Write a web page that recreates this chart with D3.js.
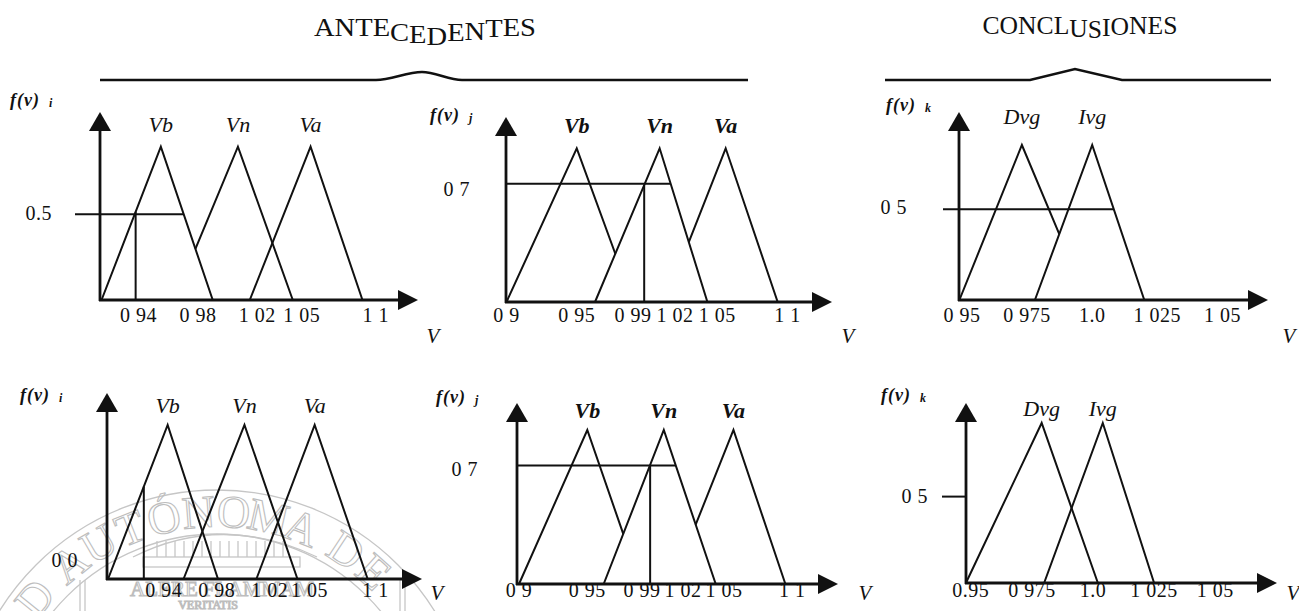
<!DOCTYPE html>
<html>
<head>
<meta charset="utf-8">
<script src="https://cdn.jsdelivr.net/npm/d3@7/dist/d3.min.js"></script>
<style>
  body { margin: 0; background: #fff; }
  svg { display: block; font-family: "Liberation Serif", "Times New Roman", serif; }
  .tri { fill: none; stroke: #111; stroke-width: 2; stroke-linejoin: miter; }
  .axis { fill: none; stroke: #111; stroke-width: 2.8; }
  .arrow { fill: #111; stroke: none; }
  .guide { fill: none; stroke: #111; stroke-width: 2; }
  .tick { font-size: 20px; letter-spacing: 0.5px; fill: #111; }
  .setname { font-size: 22px; font-style: italic; fill: #111; }
  .fv { font-size: 18px; font-style: italic; font-weight: bold; letter-spacing: 1px; fill: #111; }
  .vlab { font-size: 21px; font-style: italic; fill: #111; }
  .head { font-size: 26px; fill: #111; }
  .brace { fill: none; stroke: #111; stroke-width: 2.4; }
  .seal { fill: none; stroke: #c6c6c6; stroke-width: 1.3; }
  .sealtext { font-size: 46px; fill: none; stroke: #bdbdbd; stroke-width: 1.1; }
</style>
</head>
<body>
<svg id="chart" width="1299" height="611"></svg>
<script>
(function (d3) {
  'use strict';

  // --- data ----------------------------------------------------------
  var headers = ['ANTECEDENTES', 'CONCLUSIONES'];
  var antNames = ['Vb', 'Vn', 'Va'];
  var conNames = ['Dvg', 'Ivg'];

  // triangles [left foot, peak, right foot] in V, one array per panel
  var setsTL = [[0.915, 0.955, 0.990], [0.964, 1.007, 1.044], [1.015, 1.056, 1.091]];
  var setsTM = [[0.900, 0.950, 0.990], [0.963, 1.009, 1.043], [1.013, 1.056, 1.093]];
  var setsTR = [[0.949, 0.973, 0.998], [0.978, 1.000, 1.020]];
  var setsBL = [[0.898, 0.943, 0.981], [0.955, 1.001, 1.041], [1.010, 1.054, 1.094]];
  var setsBM = [[0.900, 0.950, 0.989], [0.962, 1.006, 1.044], [1.012, 1.057, 1.095]];
  var setsBR = [[0.948, 0.979, 1.002], [0.980, 1.004, 1.025]];

  // x tick values and the labels as printed
  var ticksA1 = [0.94, 0.98, 1.02, 1.05, 1.1];
  var textA1 = ['0 94', '0 98', '1 02', '1 05', '1 1'];
  var ticksA2 = [0.9, 0.95, 0.99, 1.02, 1.05, 1.1];
  var textA2 = ['0 9', '0 95', '0 99', '1 02', '1 05', '1 1'];
  var ticksC = [0.95, 0.975, 1.0, 1.025, 1.05];
  var textCTop = ['0 95', '0 975', '1.0', '1 025', '1 05'];
  var textCBot = ['0.95', '0 975', '1.0', '1 025', '1 05'];

  // per panel (TL, TM, TR, BL, BM, BR): measured input, level line, level label
  var inputs = [0.938, 0.998, null, 0.925, 0.996, null];
  var levels = [0.56, 0.77, 0.585, 0.12, 0.77, 0.54];
  var levelText = ['0.5', '0 7', '0 5', '0 0', '0 7', '0 5'];
  var subs = ['i', 'j', 'k', 'i', 'j', 'k'];

  // watermark texts of the scanned page
  var sealRing = 'UNIVERSIDAD AUTÓNOMA DE NUEVO LEÓN';
  var sealMotto = ['ALERE FLAMMAM', 'VERITATIS'];

  // --- layout ---------------------------------------------------------
  var panels = [
    { sets: setsTL, names: antNames, ticks: ticksA1, ttext: textA1, dom: [0.9, 1.1], rng: [79.3, 375.8],
      ax: 100, base: 300, top: 146.7, tip: 112, end: 418, tickY: 322, vX: 433, vY: 343, nameY: 132,
      active: 0, hline: 0, from: -25, lblX: 52, lblDy: 6, fv: [10, 106], bold: false, clip: [[1, 'left']] },
    { sets: setsTM, names: antNames, ticks: ticksA2, ttext: textA2, dom: [0.9, 1.1], rng: [506.5, 787.5],
      ax: 506, base: 302, top: 148.3, tip: 117, end: 832, tickY: 322, vX: 848, vY: 343, nameY: 133,
      active: 1, hline: 1, from: 0, lblX: 470, lblDy: 12, fv: [430, 121], bold: true, clip: [[0, 'right'], [2, 'left']] },
    { sets: setsTR, names: conNames, ticks: ticksC, ttext: textCTop, dom: [0.95, 1.05], rng: [962.0, 1222.4],
      ax: 959, base: 300, top: 145, tip: 112, end: 1268, tickY: 322, vX: 1289, vY: 343, nameY: 124,
      active: null, hline: 1, from: -16, lblX: 907, lblDy: 5, fv: [886, 111], bold: false, clip: [[0, 'right']] },
    { sets: setsBL, names: antNames, ticks: ticksA1, ttext: textA1, dom: [0.9, 1.1], rng: [110.7, 375.6],
      ax: 107, base: 579, top: 425, tip: 393, end: 422, tickY: 597, vX: 437, vY: 600, nameY: 413,
      active: 0, hline: null, from: 0, lblX: 78, lblDy: 6, fv: [20, 401], bold: false, clip: [] },
    { sets: setsBM, names: antNames, ticks: ticksA2, ttext: textA2, dom: [0.9, 1.1], rng: [519.0, 792.2],
      ax: 517, base: 584, top: 430, tip: 403, end: 838, tickY: 597, vX: 865, vY: 600, nameY: 418,
      active: 1, hline: 1, from: 0, lblX: 478, lblDy: 11, fv: [436, 403], bold: true, clip: [[0, 'right'], [2, 'left']] },
    { sets: setsBR, names: conNames, ticks: ticksC, ttext: textCBot, dom: [0.95, 1.05], rng: [970.8, 1215.2],
      ax: 966, base: 583, top: 423, tip: 403, end: 1277, tickY: 597, vX: 1293, vY: 600, nameY: 416,
      active: null, hline: -1, from: -24, lblX: 928, lblDy: 6, fv: [881, 401], bold: false, clip: [] }
  ];

  var svg = d3.select('#chart');

  // --- faint seal watermark, bottom left -------------------------------
  var sc = [217, 746];
  var seal = svg.append('g').attr('class', 'seal');
  seal.append('circle').attr('cx', sc[0]).attr('cy', sc[1]).attr('r', 256);
  seal.append('circle').attr('cx', sc[0]).attr('cy', sc[1]).attr('r', 212);

  // ring letters: 8.6 deg per letter, a bit more across a space, "T" sits at -21.7 deg
  var ringAng = [], a = 0, first = true;
  sealRing.split('').forEach(function (ch) {
    if (ch === ' ') { a += 3.5; return; }
    if (!first) a += 8.6;
    first = false;
    ringAng.push({ ch: ch, a: a });
  });
  var shift = -21.7 - ringAng[13].a;   // 14th letter is the T of AUTÓNOMA
  seal.selectAll('.sealtext')
    .data(ringAng.filter(function (d) { return d.a + shift > -62 && d.a + shift < 45; }))
    .enter().append('text')
    .attr('class', 'sealtext')
    .attr('x', sc[0]).attr('y', sc[1] - 219)
    .attr('text-anchor', 'middle')
    .attr('transform', function (d) { return 'rotate(' + (d.a + shift) + ',' + sc[0] + ',' + sc[1] + ')'; })
    .text(function (d) { return d.ch; });

  // temple: arch, columns, frieze, frame
  seal.append('path').attr('d', 'M133,557 Q222,512 317,557');
  d3.range(157, 292, 9).forEach(function (cx) {
    seal.append('line').attr('x1', cx).attr('x2', cx).attr('y1', 541).attr('y2', 557);
  });
  seal.append('rect').attr('x', 143).attr('y', 557).attr('width', 157).attr('height', 10);
  [80, 85, 400, 405].forEach(function (lx) {
    seal.append('line').attr('x1', lx).attr('x2', lx).attr('y1', 580).attr('y2', 611);
  });
  seal.append('text').attr('class', 'sealtext').attr('x', 222).attr('y', 596)
    .attr('text-anchor', 'middle').style('font-size', '21px').text(sealMotto[0]);
  seal.append('text').attr('class', 'sealtext').attr('x', 208).attr('y', 609)
    .attr('text-anchor', 'middle').style('font-size', '12px').text(sealMotto[1]);

  // --- headers with their brace lines ---------------------------------
  var headLayout = [
    { cx: 425, y: 36, len: 222, dy: [0, 0, 0, 0, 5, 2, 2, -4, -1, -3, -1, 0],
      x0: 100, x1: 748, xm: 422, half: [46, 40], rise: 8, curve: d3.curveMonotoneX },
    { cx: 1080, y: 34, len: 195, dy: [0, 0, 0, 0, 0, 3, 1, -2, -1, -1, 0, 0],
      x0: 885, x1: 1271, xm: 1075, half: [45, 47], rise: 11, curve: d3.curveLinear }
  ];
  headers.forEach(function (h, i) {
    var L = headLayout[i];
    svg.append('text').attr('class', 'head')
      .attr('x', L.cx).attr('y', L.y).attr('text-anchor', 'middle')
      .attr('dy', L.dy.join(' '))
      .attr('textLength', L.len).attr('lengthAdjust', 'spacingAndGlyphs')
      .text(h);
    var yb = 80;
    var pts = [[L.x0, yb], [L.xm - L.half[0], yb], [L.xm, yb - L.rise], [L.xm + L.half[1], yb], [L.x1, yb]];
    svg.append('path').attr('class', 'brace').attr('d', d3.line().curve(L.curve)(pts));
  });

  // --- panels ---------------------------------------------------------
  function member(s, v) {
    if (v <= s[0] || v >= s[2]) return 0;
    return v <= s[1] ? (v - s[0]) / (s[1] - s[0]) : (s[2] - v) / (s[2] - s[1]);
  }

  panels.forEach(function (p, k) {
    var x = d3.scaleLinear().domain(p.dom).range(p.rng);
    var y = d3.scaleLinear().domain([0, 1]).range([p.base, p.top]);
    var g = svg.append('g');
    var sets = p.sets;
    var line = d3.line()
      .x(function (d) { return x(d[0]); })
      .y(function (d) { return y(d[1]); });

    // where the right leg of set a meets the left leg of set b
    function cross(a, b) {
      var s = sets[a], t = sets[b];
      var pr = s[2] - s[1], q = t[1] - t[0];
      var v = (q * s[2] + pr * t[0]) / (pr + q);
      return [v, (s[2] - v) / pr];
    }

    // axes
    g.append('line').attr('class', 'axis')
      .attr('x1', p.ax).attr('x2', p.ax).attr('y1', p.base + 1).attr('y2', p.tip + 15);
    g.append('polygon').attr('class', 'arrow')
      .attr('points', [[p.ax - 11, p.tip + 19], [p.ax, p.tip], [p.ax + 11, p.tip + 19]].join(' '));
    g.append('line').attr('class', 'axis')
      .attr('x1', p.ax - 1).attr('x2', p.end - 16).attr('y1', p.base).attr('y2', p.base);
    g.append('polygon').attr('class', 'arrow')
      .attr('points', [[p.end - 20, p.base - 10], [p.end, p.base], [p.end - 20, p.base + 10]].join(' '));

    // membership triangles
    sets.forEach(function (s, i) {
      var start = [s[0], 0], stop = [s[2], 0];
      p.clip.forEach(function (c) {
        if (c[0] === i && c[1] === 'left') start = cross(i - 1, i);
        if (c[0] === i && c[1] === 'right') stop = cross(i, i + 1);
      });
      g.append('path').attr('class', 'tri').attr('d', line([start, [s[1], 1], stop]));
      g.append('text').attr('class', 'setname')
        .attr('x', x(s[1])).attr('y', p.nameY).attr('text-anchor', 'middle')
        .style('font-weight', p.bold ? 'bold' : 'normal')
        .text(p.names[i]);
    });

    // measured input and its level
    if (inputs[k] !== null) {
      var mu = member(sets[p.active], inputs[k]);
      g.append('line').attr('class', 'guide')
        .attr('x1', x(inputs[k])).attr('x2', x(inputs[k]))
        .attr('y1', y(0)).attr('y2', y(mu));
    }
    if (p.hline !== null) {
      var lv = levels[k];
      var xEnd = p.ax;
      if (p.hline >= 0) {
        var s = sets[p.hline];
        xEnd = x(s[2] - lv * (s[2] - s[1]));
      }
      g.append('line').attr('class', 'guide')
        .attr('x1', p.ax + p.from).attr('x2', xEnd)
        .attr('y1', y(lv)).attr('y2', y(lv));
    }
    g.append('text').attr('class', 'tick')
      .attr('x', p.lblX).attr('y', y(levels[k]) + p.lblDy).attr('text-anchor', 'end')
      .text(levelText[k]);

    // x tick labels
    g.selectAll('.xt').data(p.ticks).enter().append('text')
      .attr('class', 'tick xt')
      .attr('x', function (d) { return x(d); })
      .attr('y', p.tickY).attr('text-anchor', 'middle')
      .text(function (d, i) { return p.ttext[i]; });

    // axis names
    g.append('text').attr('class', 'vlab').attr('x', p.vX).attr('y', p.vY)
      .attr('text-anchor', 'middle').text('V');
    var fv = g.append('text').attr('class', 'fv').attr('x', p.fv[0]).attr('y', p.fv[1]).text('f(v)');
    fv.append('tspan').attr('dx', 9).attr('dy', 1).style('font-size', '12px').text(subs[k]);
  });
})(window.d3);
</script>
</body>
</html>
